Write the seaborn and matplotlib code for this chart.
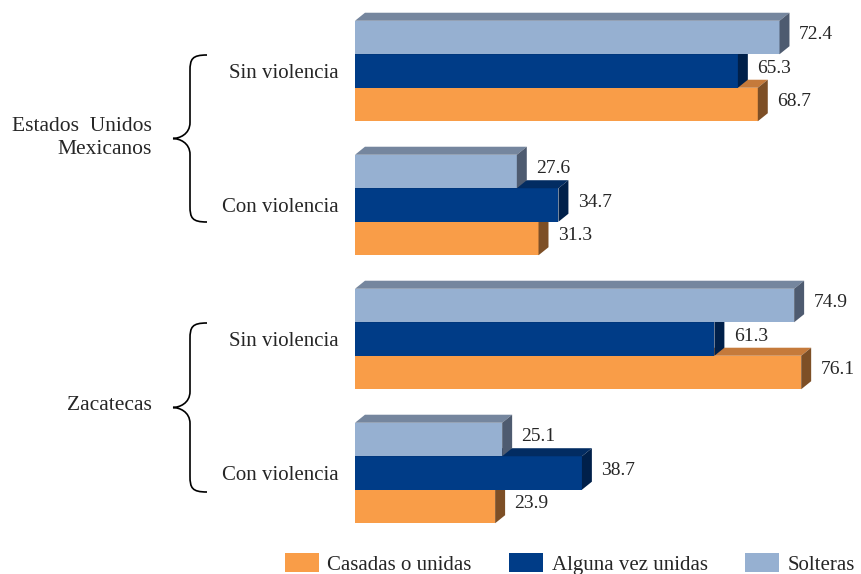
import pandas as pd
import matplotlib.pyplot as plt
import seaborn as sns
from matplotlib.patches import Polygon, Patch, PathPatch
from matplotlib.path import Path

# datos
categorias = ["EUM_sin", "EUM_con", "ZAC_sin", "ZAC_con"]
etiquetas_cat = ["Sin violencia", "Con violencia", "Sin violencia", "Con violencia"]
series = ["Solteras", "Alguna vez unidas", "Casadas o unidas"]
solteras = [72.4, 27.6, 74.9, 25.1]
alguna_vez = [65.3, 34.7, 61.3, 38.7]
casadas = [68.7, 31.3, 76.1, 23.9]
grupos = ["Estados  Unidos\nMexicanos", "Zacatecas"]
orden_leyenda = ["Casadas o unidas", "Alguna vez unidas", "Solteras"]

colores = {"Solteras": "#96B0D1", "Alguna vez unidas": "#003C87", "Casadas o unidas": "#F99D48"}
tapa = {"Solteras": "#75869E", "Alguna vez unidas": "#022C62", "Casadas o unidas": "#C57A3B"}
lado = {"Solteras": "#4E5B70", "Alguna vez unidas": "#00204A", "Casadas o unidas": "#7D4F26"}
capas = {"Solteras": 4, "Alguna vez unidas": 3, "Casadas o unidas": 2}

df = pd.DataFrame({
    "cat": categorias * 3,
    "serie": [s for s in series for _ in categorias],
    "valor": solteras + alguna_vez + casadas,
})

sns.set_style("white")
plt.rcParams["font.family"] = ["Liberation Serif", "DejaVu Serif"]

W, H = 861, 574
fig = plt.figure(figsize=(W / 100, H / 100), dpi=100)
ax = fig.add_axes([355 / W, 1 - 540 / H, 1 - 355 / W, 540 / H])

sns.barplot(data=df, x="valor", y="cat", hue="serie", order=categorias,
            hue_order=series, palette=colores, width=0.75, orient="h",
            saturation=1, legend=False, linewidth=0, ax=ax)

ax.set_xlim(0, 86.3)
ax.set_ylim(3.5, -0.53)

# cara superior y lateral para el efecto 3D
dx, dy = 1.7, 0.06
for cont, s in zip(ax.containers, series):
    for rect in cont:
        rect.set_zorder(capas[s])
        x1 = rect.get_width()
        yt = rect.get_y()
        yb = yt + rect.get_height()
        top = Polygon([(0, yt), (x1, yt), (x1 + dx, yt - dy), (dx, yt - dy)],
                      closed=True, facecolor=tapa[s], edgecolor="none", zorder=capas[s])
        side = Polygon([(x1, yt), (x1, yb), (x1 + dx, yb - dy), (x1 + dx, yt - dy)],
                       closed=True, facecolor=lado[s], edgecolor="none", zorder=capas[s])
        ax.add_patch(top)
        ax.add_patch(side)
        ax.text(x1 + dx + 1.6, (yt + yb) / 2 - 0.02, f"{x1:.1f}", fontsize=14,
                va="center", ha="left", zorder=6)

ax.set_yticks(range(len(categorias)))
ax.set_yticklabels(etiquetas_cat, fontsize=15)
ax.tick_params(axis="y", length=0, pad=12)
ax.set_xticks([])
ax.set_xlabel("")
ax.set_ylabel("")
sns.despine(ax=ax, left=True, bottom=True)


def llave(y0, y1, xt=173, xs=190, xe=207):
    ym = (y0 + y1) / 2
    pts = [(xe, y0), (xs + 2, y0), (xs, y0 + 4), (xs, y0 + 16),
           (xs, ym - 16),
           (xs, ym - 4), (xt + 6, ym), (xt, ym),
           (xt + 6, ym), (xs, ym + 4), (xs, ym + 16),
           (xs, y1 - 16),
           (xs, y1 - 4), (xs + 2, y1), (xe, y1)]
    codes = [Path.MOVETO, Path.CURVE4, Path.CURVE4, Path.CURVE4,
             Path.LINETO,
             Path.CURVE4, Path.CURVE4, Path.CURVE4,
             Path.CURVE4, Path.CURVE4, Path.CURVE4,
             Path.LINETO,
             Path.CURVE4, Path.CURVE4, Path.CURVE4]
    verts = [(x / W, 1 - y / H) for x, y in pts]
    fig.patches.append(PathPatch(Path(verts, codes), transform=fig.transFigure,
                                 facecolor="none", edgecolor="black", linewidth=1.2))


llave(55, 222)
llave(323, 492)

fig.text(152 / W, 1 - 138 / H, grupos[0], ha="right", va="center",
         multialignment="right", fontsize=15.5, linespacing=1.25)
fig.text(152 / W, 1 - 406 / H, grupos[1], ha="right", va="center", fontsize=15.5)

handles = [Patch(facecolor=colores[s], edgecolor="none") for s in orden_leyenda]
fig.legend(handles, orden_leyenda, loc="center", bbox_to_anchor=(570 / W, 1 - 564 / H),
           ncol=3, frameon=False, fontsize=15, handlelength=1.63, handleheight=1.05,
           handletextpad=0.4, columnspacing=1.8, borderpad=0, borderaxespad=0)

fig.savefig("out.png", dpi=100)
